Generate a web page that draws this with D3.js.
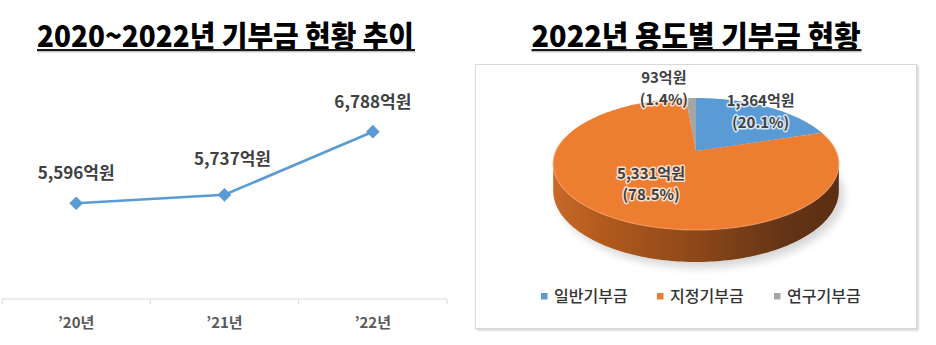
<!DOCTYPE html>
<html>
<head>
<meta charset="utf-8">
<script src="https://cdn.jsdelivr.net/npm/d3@7"></script>
<style>
  html, body { margin: 0; padding: 0; background: #fff; }
  svg { display: block; font-family: "Noto Sans CJK KR", "Noto Sans", sans-serif; }
</style>
</head>
<body>
<svg id="chart" width="936" height="345"></svg>
<script>
// ---- data ----
const years = ["’20년", "’21년", "’22년"];
const donations = [5596, 5737, 6788];          // 억원
const purposes = ["일반기부금", "지정기부금", "연구기부금"];
const purposeValues = [1364, 5331, 93];        // 2022년, 억원
const purposeColors = ["#5B9BD5", "#ED7D31", "#A5A5A5"];
const titles = ["2020~2022년 기부금 현황 추이", "2022년 용도별 기부금 현황"];

const svg = d3.select("#chart");
const defs = svg.append("defs");
const num = d3.format(",");
const pct = d3.format(".1%");

// ---- titles (condensed headline look) ----
function title(text, cx, width) {
  svg.append("text")
    .attr("x", cx).attr("y", 47)
    .attr("text-anchor", "middle")
    .attr("textLength", width).attr("lengthAdjust", "spacingAndGlyphs")
    .style("font-size", "30px").style("font-weight", 900).style("fill", "#000")
    .text(text);
  svg.append("line")
    .attr("x1", cx - width / 2).attr("x2", cx + width / 2 + 1)
    .attr("y1", 50).attr("y2", 50)
    .attr("stroke", "#1a1a1a").attr("stroke-width", 2.2);
  svg.append("line")
    .attr("x1", cx - width / 2).attr("x2", cx + width / 2 + 1)
    .attr("y1", 51.8).attr("y2", 51.8)
    .attr("stroke", "#aaa").attr("stroke-width", 1);
}
title(titles[0], 225.5, 377);
title(titles[1], 696, 329);

// ---- line chart ----
const x = d3.scaleBand().domain(years).range([2, 447]);
const y = d3.scaleLinear().domain([4000, 8000]).range([299, 59]);
const lc = svg.append("g");

// category axis: baseline plus tick marks on band boundaries
lc.append("line").attr("x1", 2).attr("x2", 447).attr("y1", 299).attr("y2", 299)
  .attr("stroke", "#D9D9D9").attr("stroke-width", 1);
const bounds = years.map(d => x(d)).concat([x.range()[1]]);
lc.selectAll("line.tick").data(bounds).join("line").attr("class", "tick")
  .attr("x1", d => d).attr("x2", d => d).attr("y1", 299).attr("y2", 304)
  .attr("stroke", "#D9D9D9");
lc.selectAll("text.cat").data(years).join("text").attr("class", "cat")
  .attr("x", d => x(d) + x.bandwidth() / 2).attr("y", 328)
  .attr("text-anchor", "middle")
  .style("font-size", "15px").style("font-weight", 700).style("fill", "#595959")
  .text(d => d);

const pts = years.map((d, i) => ({ year: d, v: donations[i] }));
const cxOf = d => x(d.year) + x.bandwidth() / 2;
lc.append("path").datum(pts)
  .attr("d", d3.line().x(cxOf).y(d => y(d.v)))
  .attr("fill", "none").attr("stroke", "#5B9BD5").attr("stroke-width", 2.6);
lc.selectAll("path.mk").data(pts).join("path").attr("class", "mk")
  .attr("transform", d => `translate(${cxOf(d)},${y(d.v)})`)
  .attr("d", d3.symbol(d3.symbolDiamond2, 120)())
  .attr("fill", "#5B9BD5");
const nudge = [0, 8, 0];
lc.selectAll("text.val").data(pts).join("text").attr("class", "val")
  .attr("x", (d, i) => cxOf(d) + nudge[i])
  .attr("y", (d, i) => y(d.v) - (i === 1 ? 30 : 24))
  .attr("text-anchor", "middle")
  .style("font-size", "17px").style("font-weight", 700).style("fill", "#404040")
  .text(d => num(d.v) + "억원");

// ---- pie panel ----
const shadow = defs.append("filter").attr("id", "boxShadow")
  .attr("x", "-5%").attr("y", "-5%").attr("width", "110%").attr("height", "110%");
shadow.append("feDropShadow").attr("dx", 1.5).attr("dy", 1.5).attr("stdDeviation", 1.2)
  .attr("flood-color", "#000").attr("flood-opacity", 0.18);
svg.append("rect").attr("x", 475.5).attr("y", 64.5).attr("width", 441).attr("height", 264)
  .attr("fill", "#fff").attr("stroke", "#D9D9D9").attr("stroke-width", 1)
  .attr("filter", "url(#boxShadow)");

// perspective projection of the pie disc
const P = { cx: 696, cy: 151, A: 140, B: 63.4, k: 0.197, depth: 25.7 };
function proj(theta, r = 1, h = 0) {
  const u = r * Math.sin(theta), v = -r * Math.cos(theta);
  const d = 1 - P.k * v;
  return [P.cx + P.A * u / d, P.cy + (P.B * v + h) / d];
}
function arcPts(a0, a1, h) {
  const n = Math.max(2, Math.ceil(Math.abs(a1 - a0) / 0.02));
  return d3.range(n + 1).map(i => proj(a0 + (a1 - a0) * i / n, 1, h));
}

const pie = d3.pie().sort(null)(purposeValues);
const pg = svg.append("g");

// soft ground shadow
const gs = defs.append("filter").attr("id", "pieShadow")
  .attr("x", "-20%").attr("y", "-20%").attr("width", "140%").attr("height", "140%");
gs.append("feGaussianBlur").attr("stdDeviation", 4);
pg.append("path")
  .attr("d", d3.line()(arcPts(0, 2 * Math.PI, P.depth + 3).map(p => [p[0] + 5, p[1] + 2])) + "Z")
  .attr("fill", "#000").attr("opacity", 0.16).attr("filter", "url(#pieShadow)");

// side wall (front half, all within the orange slice)
const sideGrad = defs.append("linearGradient").attr("id", "sideGrad")
  .attr("gradientUnits", "userSpaceOnUse")
  .attr("x1", P.cx - 145).attr("x2", P.cx + 145).attr("y1", 0).attr("y2", 0);
[["0%", "#C86A28"], ["18%", "#B25A1E"], ["50%", "#8C4818"], ["80%", "#653416"], ["100%", "#5A2E12"]]
  .forEach(([o, c]) => sideGrad.append("stop").attr("offset", o).attr("stop-color", c));
const tR = Math.acos(-P.k), tL = 2 * Math.PI - tR;
const sidePts = arcPts(tR, tL, 0).concat(arcPts(tL, tR, P.depth));
pg.append("path").attr("d", d3.line()(sidePts) + "Z").attr("fill", "url(#sideGrad)");

// top face slices
pg.selectAll("path.slice").data(pie).join("path").attr("class", "slice")
  .attr("d", d => d3.line()([[P.cx, P.cy]].concat(arcPts(d.startAngle, d.endAngle, 0))) + "Z")
  .attr("fill", (d, i) => purposeColors[i]);

// rim highlight on the top face edge
pg.append("path")
  .attr("d", d3.line()(arcPts(tR - 0.4, tL + 0.4, 0)))
  .attr("fill", "none").attr("stroke", "#F4A065").attr("stroke-width", 1.2).attr("opacity", 0.7);

// slice labels
const labR = [0.8, 0.55, 1.28], labDx = [6, 2, -26], labDy = [-3, 1, 2];
const total = d3.sum(purposeValues);
pie.forEach((d, i) => {
  const mid = (d.startAngle + d.endAngle) / 2;
  const [lx, ly] = proj(mid, labR[i]);
  const t = pg.append("text")
    .attr("x", lx + labDx[i]).attr("y", ly + labDy[i])
    .attr("text-anchor", "middle")
    .style("font-size", "15px").style("font-weight", 700).style("fill", "#404040")
    .attr("stroke", "rgba(255,255,255,0.75)").attr("stroke-width", 3)
    .attr("paint-order", "stroke").attr("stroke-linejoin", "round");
  t.append("tspan").attr("x", lx + labDx[i]).attr("dy", "-0.35em").text(num(d.data) + "억원");
  t.append("tspan").attr("x", lx + labDx[i]).attr("dy", "1.45em").text("(" + pct(d.data / total) + ")");
});

// legend
const legX = [541, 657, 774];
const lg = svg.append("g").selectAll("g").data(purposes).join("g")
  .attr("transform", (d, i) => `translate(${legX[i]},293)`);
lg.append("rect").attr("width", 6.5).attr("height", 6.5)
  .attr("fill", (d, i) => purposeColors[i]);
lg.append("text").attr("x", 13).attr("y", 9)
  .style("font-size", "16px").style("font-weight", 500).style("fill", "#333")
  .text(d => d);
</script>
</body>
</html>
